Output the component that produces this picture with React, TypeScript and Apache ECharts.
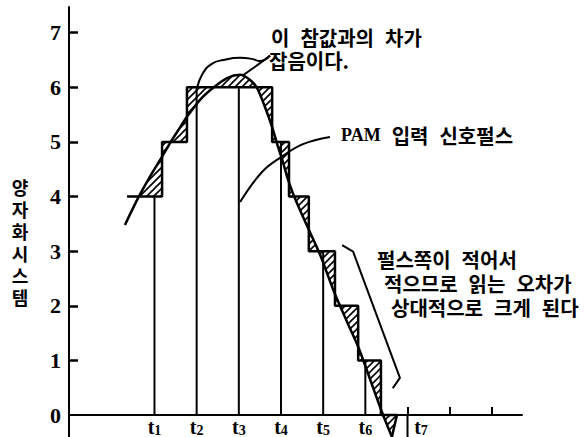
import React, { useEffect, useRef } from 'react';
import * as echarts from 'echarts';

// ---- axes ----
const X_MIN = -1.027;
const X_MAX = 9.715;
const Y_MIN = 0;
const Y_MAX = 7.47;
const Y_BELOW = -0.403; // the vertical axis continues below zero to the picture's edge
const yTickValues = [1, 2, 3, 4, 5, 6, 7];
const yLabelValues = [0, 1, 2, 3, 4, 5, 6, 7];
const xLabelValues = [1, 2, 3, 4, 5, 6, 7];
const xLabelSubs = ['1', '2', '3', '4', '5', '6', '7'];
const xTickValues = [7, 8, 9];
const longTickAt = 7;

// ---- PAM pulses at sampling instants ----
const sampleTimes = [1, 2, 3, 4, 5, 6];
const pulseValues = [4, 6, 6, 5, 3, 1];

// ---- analog input signal ----
const curveX = [0.3, 0.61, 0.89, 1.18, 1.37, 1.61, 1.77, 2.08, 2.39, 2.72, 3.03, 3.26, 3.43, 3.62, 3.79, 3.91, 4.05, 4.17, 4.33, 4.62, 4.93, 5.24, 5.57, 5.83, 6.04, 6.4, 6.63, 6.72];
const curveY = [3.48, 3.97, 4.36, 4.73, 4.98, 5.27, 5.46, 5.77, 5.99, 6.17, 6.23, 6.14, 5.99, 5.64, 5.27, 4.96, 4.62, 4.3, 3.97, 3.46, 2.93, 2.29, 1.7, 1.25, 0.81, 0.04, -0.4, -0.59];

// ---- quantized staircase ----
const stepEdges = [0.35, 1.18, 1.77, 3.79, 4.19, 4.66, 5.28, 5.83, 6.37, 6.75];
const stepLevels = [4, 5, 6, 5, 4, 3, 2, 1, 0];
const stairTail = [6.63, -0.4];

// ---- annotation leaders ----
const arcX = [2.01, 2.15, 2.36, 2.63, 3.03, 3.31, 3.5, 3.74];
const arcY = [5.99, 6.26, 6.43, 6.5, 6.54, 6.52, 6.48, 6.58];
const peakLeaderX = [3.08, 3.41, 3.74];
const peakLeaderY = [6.21, 6.39, 6.58];
const pamLeaderX = [3.03, 3.55, 4.02, 4.52, 5.16];
const pamLeaderY = [3.9, 4.45, 4.73, 4.96, 5.09];
const bracketX = [5.45, 5.71, 6.82, 6.65];
const bracketY = [3.11, 2.99, 0.68, 0.49];

// ---- texts ----
const yAxisTitle = ['양', '자', '화', '시', '스', '템'];
const noteNoise = ['이{sp|}참값과의{sp|}차가', '잡음이다.'];
const notePam = '{p|PAM}{sp|}입력{sp|}신호펄스';
const noteSmall = ['펄스쪽이{sp|}적어서', '적으므로{sp|}읽는{sp|}오차가', '상대적으로{sp|}크게{sp|}된다'];

const KFONT = '"Noto Sans CJK KR", "Noto Sans", sans-serif';
const SERIF = '"Liberation Serif", "DejaVu Serif", serif';

export default function App() {
  const ref = useRef<HTMLDivElement>(null);

  useEffect(() => {
    const chart = echarts.init(ref.current!, null, { renderer: 'svg' });

    const cv = document.createElement('canvas');
    cv.width = 7;
    cv.height = 7;
    const ctx = cv.getContext('2d')!;
    ctx.strokeStyle = '#000';
    ctx.lineWidth = 1.6;
    ctx.beginPath();
    ctx.moveTo(-1, 8); ctx.lineTo(8, -1);
    ctx.moveTo(-1, 1); ctx.lineTo(1, -1);
    ctx.moveTo(6, 8); ctx.lineTo(8, 6);
    ctx.stroke();
    const hatchFill: any = { image: cv, repeat: 'repeat', imageWidth: 7, imageHeight: 7 };

    const curveAt = (x: number) => {
      for (let i = 0; i < curveX.length - 1; i++) {
        if (x >= curveX[i] && x <= curveX[i + 1]) {
          const t = (x - curveX[i]) / (curveX[i + 1] - curveX[i]);
          return curveY[i] + t * (curveY[i + 1] - curveY[i]);
        }
      }
      return x < curveX[0] ? curveY[0] : curveY[curveY.length - 1];
    };
    const crossing = (level: number, a: number, b: number) => {
      let lo = a, hi = b;
      const sLo = curveAt(lo) - level;
      for (let k = 0; k < 40; k++) {
        const m = (lo + hi) / 2;
        if ((curveAt(m) - level) * sLo > 0) lo = m; else hi = m;
      }
      return (lo + hi) / 2;
    };

    const stairData: number[][] = [];
    stepLevels.forEach((lv, i) => {
      stairData.push([stepEdges[i], lv]);
      stairData.push([stepEdges[i + 1], lv]);
    });
    stairData.push(stairTail);

    const lineStyle = (w: number) => ({ color: '#000', width: w });
    const plain = (name: string, xs: number[], ys: number[], w: number, smooth: number) => ({
      type: 'line', name, data: xs.map((x, i) => [x, ys[i]]), showSymbol: false, symbol: 'none',
      smooth, lineStyle: lineStyle(w), silent: true, z: 4, clip: false,
    });

    const textStyleBase = {
      fontFamily: KFONT, fontWeight: 'bold', fontSize: 20, lineHeight: 21, fill: '#000', verticalAlign: 'middle',
      rich: {
        sp: { width: 11, lineHeight: 21 },
        p: { fontFamily: SERIF, fontWeight: 'bold', fontSize: 18, lineHeight: 21, fill: '#000' },
      },
    };
    const txt = (text: string, x: number, y: number) => ({
      type: 'text', x, y, silent: true, style: { ...textStyleBase, text },
    });
    const titleChars = yAxisTitle.map((ch, i) => ({
      type: 'text', x: 20, y: 187 + i * 22, silent: true,
      style: {
        text: ch, fontFamily: KFONT, fontWeight: 'bold', fontSize: 18, lineHeight: 18,
        fill: '#000', align: 'center', verticalAlign: 'middle',
      },
    }));

    chart.setOption({
      animation: false,
      backgroundColor: '#fff',
      grid: { left: 69, right: 66, top: 7, bottom: 22, containLabel: false, outerBoundsMode: 'none' },
      xAxis: {
        type: 'value', min: X_MIN, max: X_MAX,
        axisLine: { onZero: false, lineStyle: { color: '#000', width: 2 } },
        axisTick: { show: true, inside: true, length: 8, customValues: xTickValues, lineStyle: { color: '#000', width: 2 } },
        splitLine: { show: false },
        axisLabel: {
          customValues: xLabelValues, margin: 2, color: '#000',
          formatter: (v: number) => {
            const i = xLabelValues.indexOf(Math.round(v));
            const s = xLabelSubs[i];
            return (v === longTickAt ? '{g|}' : '') + '{t|t}{s|' + s + '}';
          },
          rich: {
            t: { fontFamily: SERIF, fontWeight: 'bold', fontSize: 20, lineHeight: 20, color: '#000' },
            s: { fontFamily: SERIF, fontWeight: 'bold', fontSize: 14, lineHeight: 8, verticalAlign: 'bottom', color: '#000' },
            g: { width: 27 },
          },
        },
      },
      yAxis: {
        type: 'value', min: Y_MIN, max: Y_MAX,
        axisLine: { show: true, onZero: false, lineStyle: { color: '#000', width: 2 } },
        axisTick: { show: true, inside: true, length: 9, customValues: yTickValues, lineStyle: { color: '#000', width: 2.5 } },
        splitLine: { show: false },
        axisLabel: {
          customValues: yLabelValues, margin: 8, color: '#000',
          fontFamily: SERIF, fontWeight: 'bold', fontSize: 22,
        },
      },
      graphic: [
        ...titleChars,
        txt(noteNoise[0], 271, 37),
        txt(noteNoise[1], 269, 60),
        txt(notePam, 341, 135),
        txt(noteSmall[0], 377, 259),
        txt(noteSmall[1], 384, 283),
        txt(noteSmall[2], 391, 307),
      ],
      series: [
        {
          type: 'custom', name: 'hatch', coordinateSystem: 'cartesian2d', data: [[0, 0]], silent: true, z: 1,
          clip: false,
          renderItem: (_p: any, api: any) => {
            const pts: number[][] = [];
            const xs = crossing(stepLevels[0], stepEdges[0], stepEdges[1]);
            pts.push([xs, stepLevels[0]]);
            stepLevels.forEach((lv, i) => {
              if (i > 0) pts.push([stepEdges[i], lv]);
              pts.push([stepEdges[i + 1], lv]);
            });
            pts.push(stairTail);
            for (let i = curveX.length - 1; i >= 0; i--) {
              if (curveX[i] < stairTail[0] && curveX[i] > xs) pts.push([curveX[i], curveY[i]]);
            }
            return {
              type: 'polygon',
              shape: { points: pts.map((p) => api.coord(p)) },
              style: { fill: hatchFill, stroke: 'none' },
            };
          },
        },
        {
          type: 'custom', name: 'pulses', coordinateSystem: 'cartesian2d', silent: true, z: 3,
          data: sampleTimes.map((t, i) => [t, pulseValues[i]]),
          renderItem: (_p: any, api: any) => {
            const a = api.coord([api.value(0), 0]);
            const b = api.coord([api.value(0), api.value(1)]);
            return {
              type: 'line', shape: { x1: a[0], y1: a[1], x2: b[0], y2: b[1] },
              style: { stroke: '#000', lineWidth: 2 },
            };
          },
        },
        {
          type: 'line', name: 'tick7', data: [[longTickAt, 0], [longTickAt, Y_BELOW]], showSymbol: false,
          symbol: 'none', lineStyle: lineStyle(2), silent: true, z: 3, clip: false,
        },
        {
          type: 'line', name: 'yAxisBelow', data: [[X_MIN, 0], [X_MIN, Y_BELOW]], showSymbol: false,
          symbol: 'none', lineStyle: lineStyle(2), silent: true, z: 3, clip: false,
        },
        {
          type: 'line', name: 'stair', data: stairData, showSymbol: false, symbol: 'none',
          lineStyle: lineStyle(2.5), silent: true, z: 4, clip: false,
        },
        plain('signal', curveX, curveY, 2.5, 0.3),
        plain('arc', arcX, arcY, 2, 0.5),
        plain('peakLeader', peakLeaderX, peakLeaderY, 2, 0.3),
        plain('pamLeader', pamLeaderX, pamLeaderY, 2, 0.4),
        plain('bracket', bracketX, bracketY, 2, 0),
      ],
    });

    return () => chart.dispose();
  }, []);

  return (
    <div
      ref={ref}
      style={{ position: 'fixed', left: 0, top: 0, width: 588, height: 437, background: '#fff' }}
    />
  );
}
